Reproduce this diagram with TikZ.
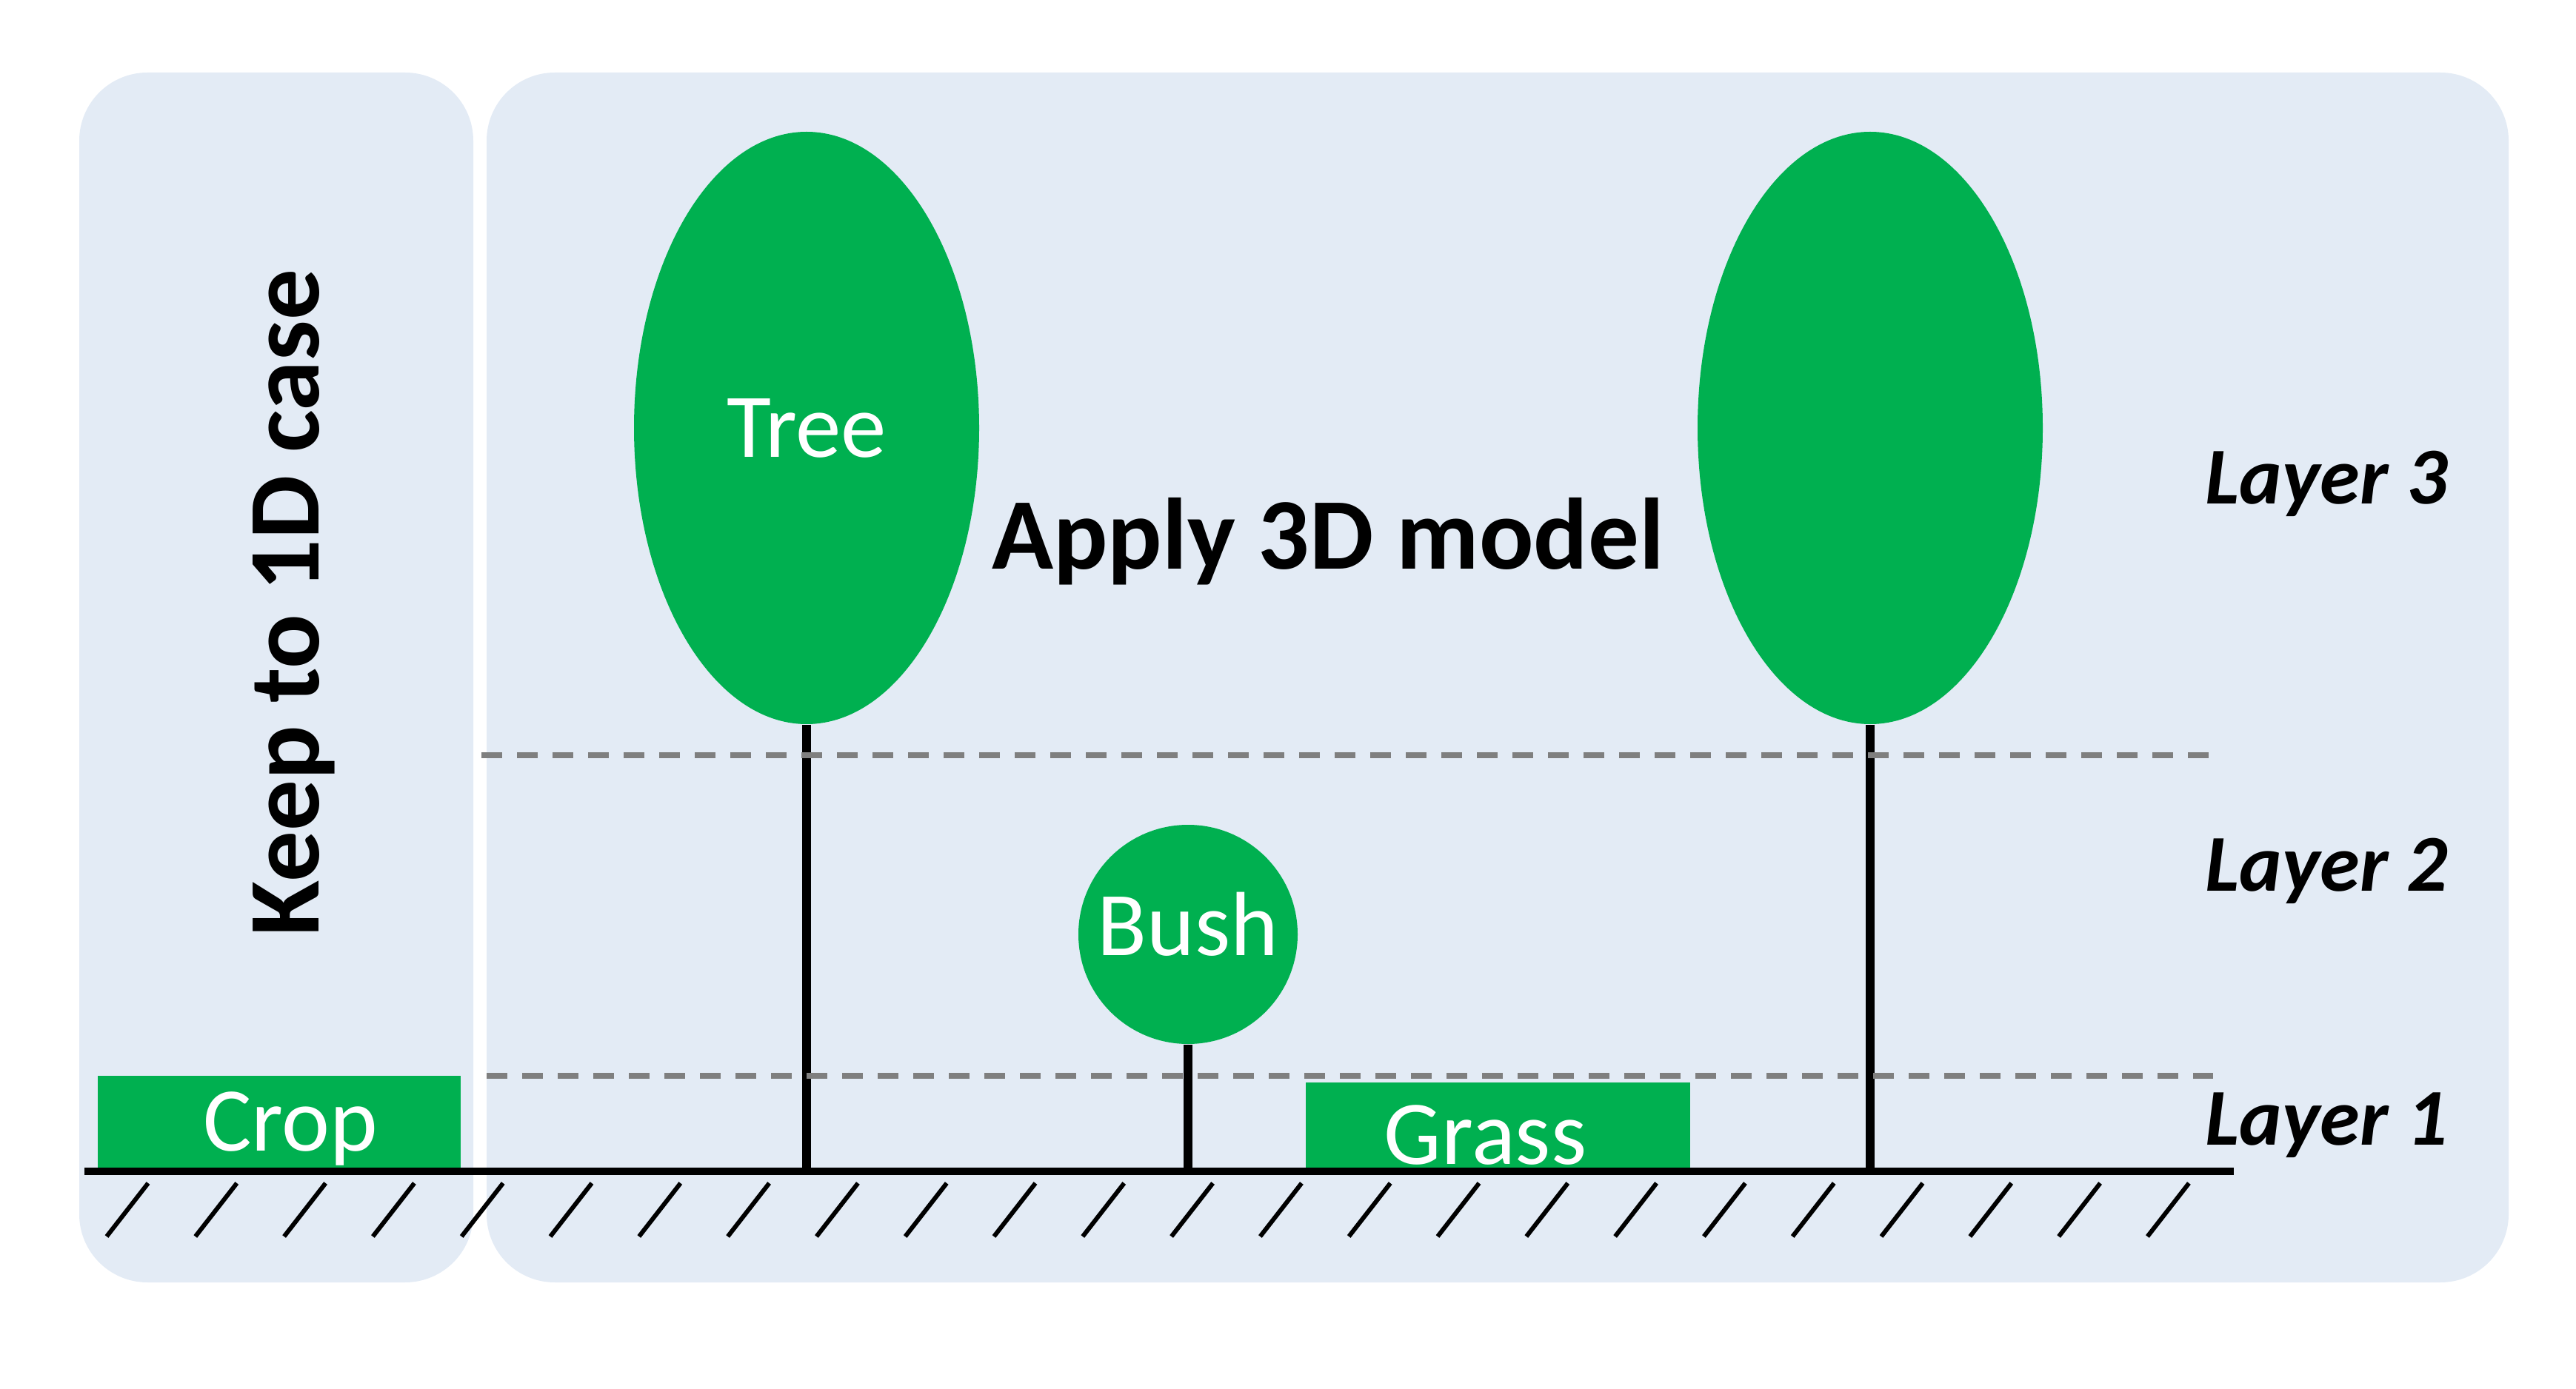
\documentclass[tikz,border=0pt]{standalone}
\usepackage{fontspec}
\setmainfont{Carlito}
\usepackage{xcolor}
\usepackage{tikz}
\usetikzlibrary{positioning, shapes.geometric, calc}
\definecolor{panelblue}{HTML}{E3EBF5}
\definecolor{leafgreen}{HTML}{00B050}
\definecolor{layergray}{HTML}{7F7F7F}
\tikzset{
  panel/.style={fill=panelblue, rounded corners=0.92cm, inner sep=0pt,
    minimum height=16.34cm},
  canopy/.style={ellipse, fill=leafgreen, inner sep=0pt, minimum width=4.66cm,
    minimum height=8.0cm, text=white, font=\fontsize{35}{42}\selectfont,
    text height=22.4pt, text depth=0pt},
  shrub/.style={circle, fill=leafgreen, inner sep=0pt, minimum size=2.96cm,
    text=white, font=\fontsize{35}{42}\selectfont, text height=16.2pt, text depth=0pt},
  patch/.style={rectangle, fill=leafgreen, inner sep=0pt, text=white,
    font=\fontsize{35}{42}\selectfont, text height=22.4pt, text depth=0pt},
  trunk/.style={line width=3.3pt},
  layerline/.style={draw=layergray, line width=2pt, dash pattern=on 0.28cm off 0.2cm},
  layerlabel/.style={anchor=base, font=\bfseries\itshape\fontsize{31}{37}\selectfont},
  headline/.style={anchor=base, font=\bfseries\fontsize{39}{47}\selectfont},
  hatch/.style={line width=1.7pt}
}
\begin{document}
\begin{tikzpicture}
  \useasboundingbox (0,0) rectangle (34.78,18.75);

  % === Background panels ===
  \node[panel, minimum width=5.32cm] (leftpanel) at (3.73,9.60) {};
  \node[panel, minimum width=27.30cm] (rightpanel) at (20.22,9.60) {};

  \node[headline, rotate=90] (keep) at (4.30,10.61) {Keep to 1D case};
  \node[headline] (apply) at (17.93,11.06) {Apply 3D model};

  % === Ground ===
  \coordinate (groundL) at (1.14,2.93);
  \coordinate (groundR) at (30.16,2.93);

  % === Plants ===
  \node[patch, minimum width=4.90cm, minimum height=1.24cm] (crop) at (3.77,3.60) {\hspace*{0.3cm}Crop};
  \node[patch, minimum width=5.19cm, minimum height=1.20cm, text height=28.6pt] (grass) at (20.225,3.53) {Grass\hspace*{0.34cm}};

  \node[canopy] (treeA) at (10.89,12.97) {Tree};
  \node[canopy] (treeB) at (25.25,12.97) {};
  \node[shrub] (bush) at (16.04,6.13) {Bush};

  \draw[trunk] (treeA.south) -- (treeA.south |- groundL);
  \draw[trunk] (treeB.south) -- (treeB.south |- groundL);
  \draw[trunk] (bush.south) -- (bush.south |- groundL);

  \draw[line width=2.6pt] (groundL) -- (groundR);
  \foreach \i in {0,...,23}
    \draw[hatch] ({1.44+1.198*\i},2.05) -- ++(0.56,0.72);

  % === Layer borders ===
  \coordinate (topL) at (6.50,8.55);
  \coordinate (topR) at (29.83,8.55);
  \coordinate (lowL) at (6.57,4.22);
  \coordinate (lowR) at (29.88,4.22);
  \draw[layerline] (topL) -- (topR);
  \draw[layerline] (lowL) -- (lowR);

  \node[layerlabel] (layer3) at (31.41,11.94) {Layer 3};
  \node[layerlabel] (layer2) at (31.41,6.72) {Layer 2};
  \node[layerlabel] (layer1) at (31.41,3.29) {Layer 1};
\end{tikzpicture}
\end{document}
